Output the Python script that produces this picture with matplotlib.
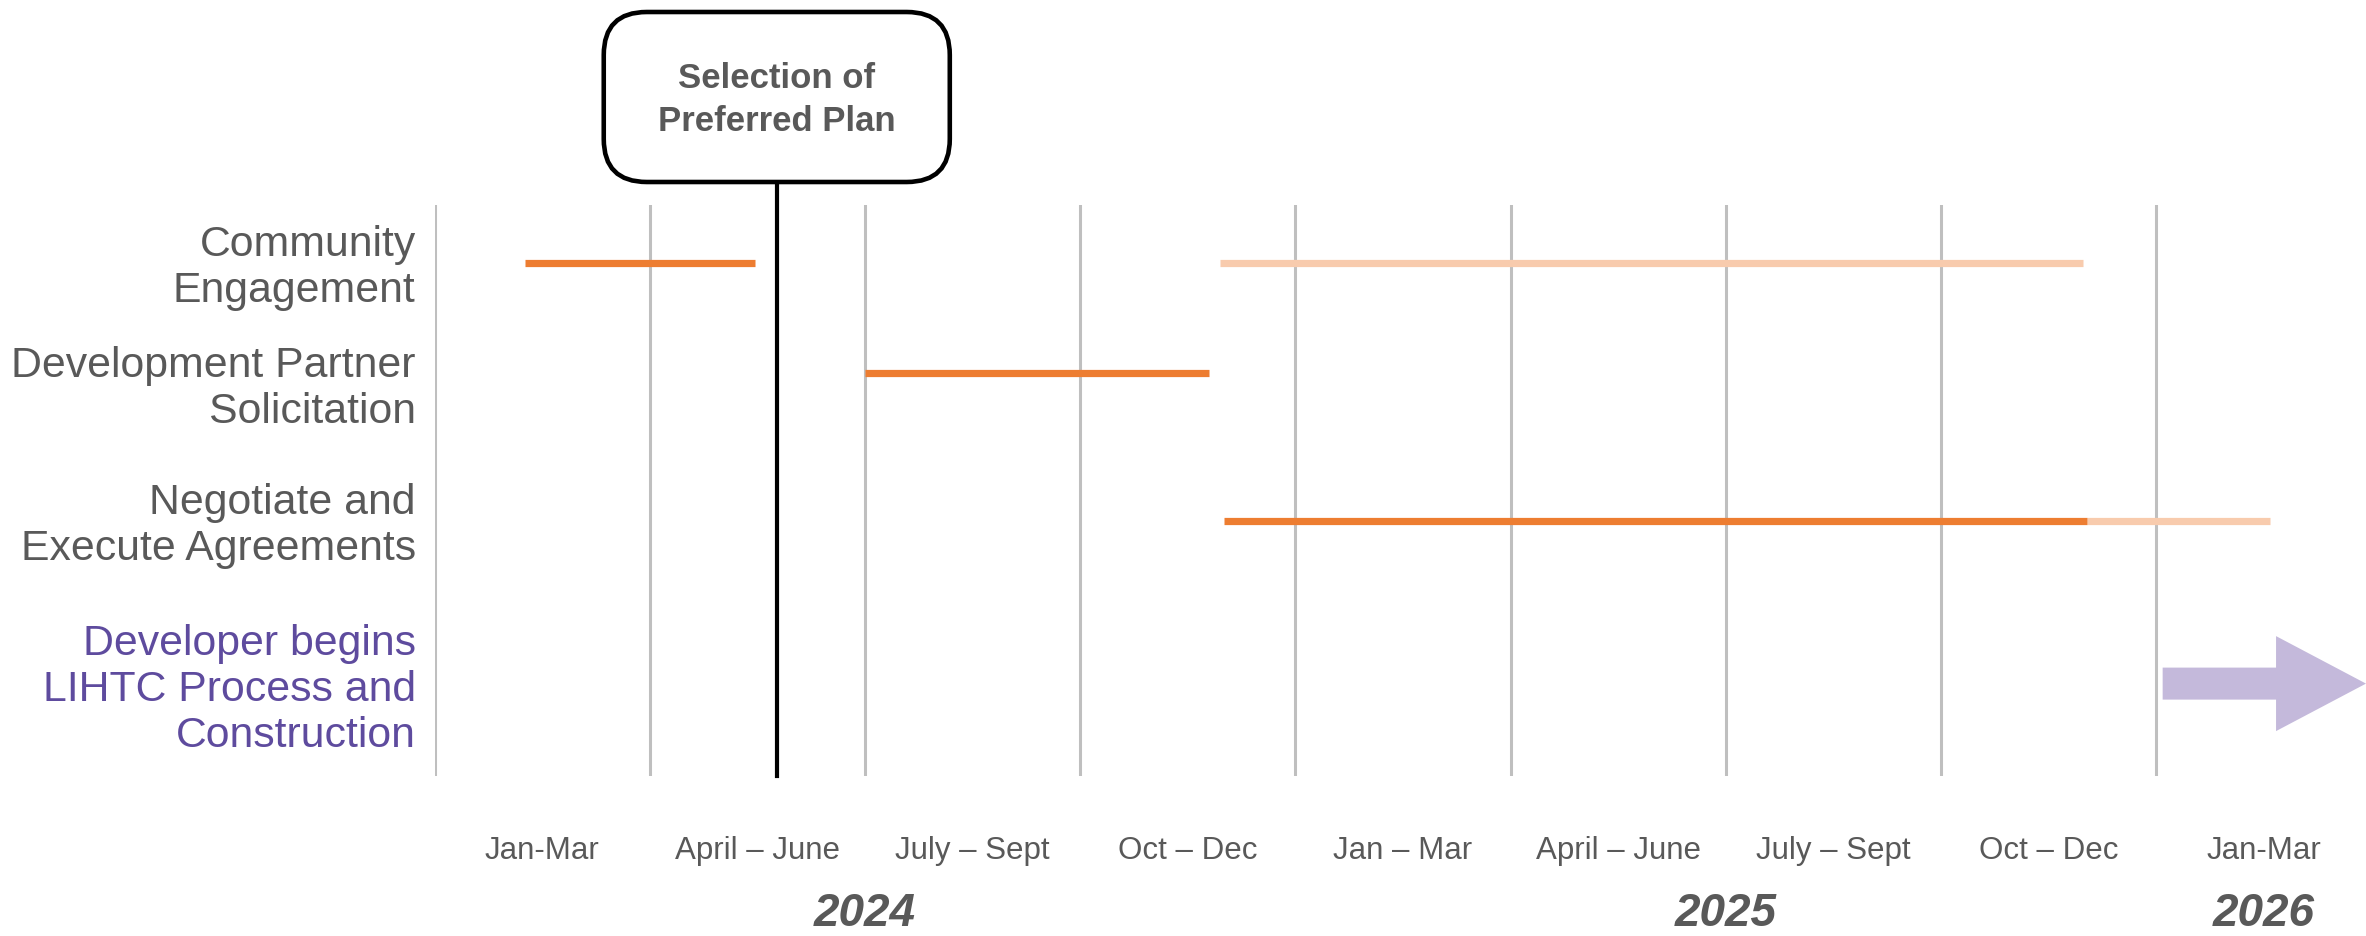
import matplotlib
matplotlib.use("Agg")
import matplotlib.pyplot as plt
from matplotlib.patches import FancyBboxPatch, FancyArrow

plt.rcParams['font.family'] = ['Liberation Sans', 'DejaVu Sans']

# ---------------- data ----------------
tasks = ["Community\nEngagement",
         "Development Partner\nSolicitation",
         "Negotiate and\nExecute Agreements",
         "Developer begins\nLIHTC Process and\nConstruction"]
task_colors = ["#595959", "#595959", "#595959", "#5E4B9E"]

# timeline in quarters from Jan 2024 (0 = start of Q1 2024)
solid_task = [0, 1, 2]
solid_start = [0.42, 2.00, 3.67]
solid_end = [1.49, 3.60, 7.68]

light_task = [0, 2]
light_start = [3.65, 7.68]
light_end = [7.66, 8.53]

arrow_task = 3
arrow_start = 8.03

milestone_q = 1.59
milestone_label = "Selection of\nPreferred Plan"

quarter_labels = ["Jan-Mar", "April \u2013 June", "July \u2013 Sept", "Oct \u2013 Dec",
                  "Jan \u2013 Mar", "April \u2013 June", "July \u2013 Sept", "Oct \u2013 Dec",
                  "Jan-Mar"]
years = ["2024", "2025", "2026"]
year_start_q = [0, 4, 8]
year_n_q = [4, 4, 1]

# ---------------- layout ----------------
W, H = 2366, 936
fig = plt.figure(figsize=(W / 100, H / 100), dpi=100)
left_px, top_px, bot_px = 434.6, 205, 776
q_px = 215.2
ax = fig.add_axes([left_px / W, (H - bot_px) / H, 1 - left_px / W, (bot_px - top_px) / H])
xmax = (W - left_px) / q_px
ax.set_xlim(0, xmax)
ax.set_ylim((bot_px - top_px) / 100, 0)
ax.axis('off')

bar_y = [0.576, 1.677, 3.156, 4.786]
label_y = [0.63, 1.84, 3.21, 4.85]
label_x = -0.088
quarter_y = 6.46
year_y = 7.09

orange = "#ED7D31"
light_orange = "#F8CBAD"
grid_c = "#BFBFBF"
lavender = "#C4B9DB"
gray_txt = "#595959"

# gridlines
for i in range(len(quarter_labels)):
    ax.axvline(i, color=grid_c, lw=2.2, zorder=1)

# bars
for t, s, e in zip(light_task, light_start, light_end):
    ax.plot([s, e], [bar_y[t], bar_y[t]], color=light_orange, lw=5.2,
            solid_capstyle='butt', zorder=2)
for t, s, e in zip(solid_task, solid_start, solid_end):
    ax.plot([s, e], [bar_y[t], bar_y[t]], color=orange, lw=5.2,
            solid_capstyle='butt', zorder=3)

# arrow
head_len = 0.418
arr = FancyArrow(arrow_start, bar_y[arrow_task], xmax - arrow_start, 0,
                 width=0.32, head_width=0.95, head_length=head_len,
                 length_includes_head=True, color=lavender, lw=0, zorder=3,
                 clip_on=False)
ax.add_patch(arr)

# task labels
for lab, y, c in zip(tasks, label_y, task_colors):
    ax.text(label_x, y, lab, ha='right', va='center', fontsize=30.8, color=c,
            linespacing=1.2, clip_on=False)

# quarter labels
for i, lab in enumerate(quarter_labels):
    ax.text(i + 0.5, quarter_y, lab, ha='center', va='center', fontsize=22.5,
            color=gray_txt, clip_on=False)

# year labels
for yl, s, n in zip(years, year_start_q, year_n_q):
    ax.text(s + n / 2, year_y, yl, ha='center', va='center', fontsize=33,
            color=gray_txt, fontweight='bold', fontstyle='italic', clip_on=False)

# milestone
box_w = 1.608
box_top, box_bot = -1.93, -0.23
ax.plot([milestone_q, milestone_q], [box_bot, ax.get_ylim()[0]], color='black',
        lw=3.0, clip_on=False, zorder=4)
box = FancyBboxPatch((milestone_q - box_w / 2, box_top), box_w, box_bot - box_top,
                     boxstyle="round,pad=0,rounding_size=0.2", mutation_aspect=2.15,
                     facecolor='white', edgecolor='black', lw=3.3, clip_on=False, zorder=5)
ax.add_patch(box)
ax.text(milestone_q, (box_top + box_bot) / 2 + 0.03, milestone_label, ha='center',
        va='center', fontsize=25, fontweight='bold', color=gray_txt, linespacing=1.4,
        zorder=6, clip_on=False)

fig.savefig("out.png", dpi=100, facecolor='white')
